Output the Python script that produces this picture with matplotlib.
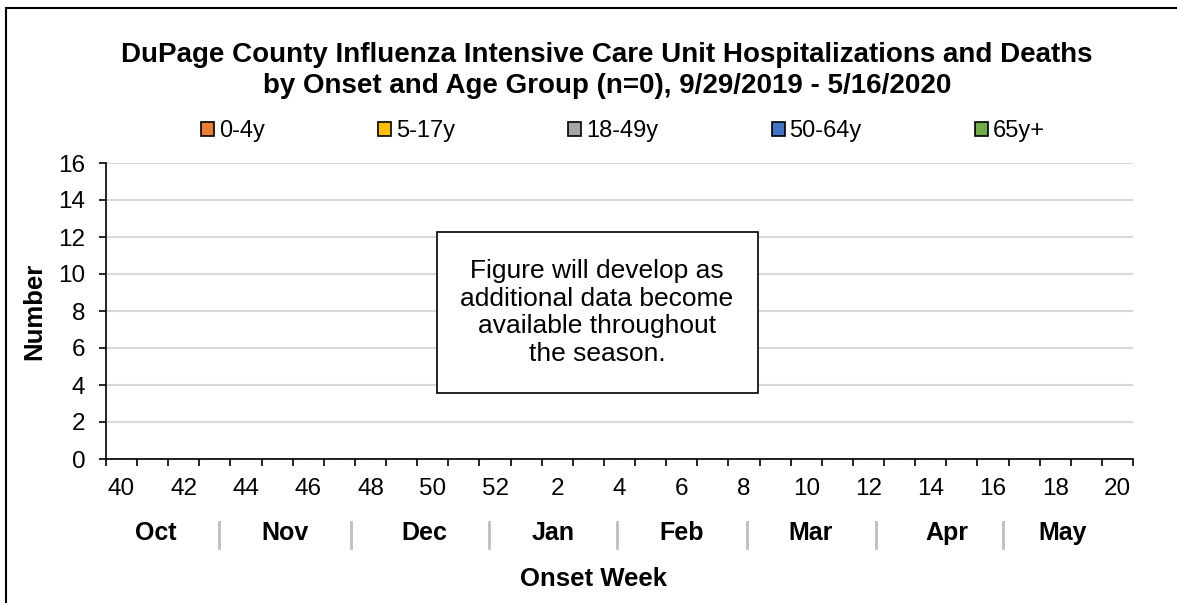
import numpy as np
import matplotlib
matplotlib.use("Agg")
import matplotlib.pyplot as plt
import matplotlib.patches as mpatches
import matplotlib.transforms as mtransforms

plt.rcParams['font.family'] = ['Liberation Sans', 'DejaVu Sans']

# --- data ---
weeks = [str(w) for w in range(40, 53)] + [str(w) for w in range(1, 21)]
age_groups = ["0-4y", "5-17y", "18-49y", "50-64y", "65y+"]
colors = ["#ED7D31", "#FFC000", "#A5A5A5", "#4472C4", "#70AD47"]
# no cases reported yet (n=0)
counts = {
    "0-4y": [0] * 33,
    "5-17y": [0] * 33,
    "18-49y": [0] * 33,
    "50-64y": [0] * 33,
    "65y+": [0] * 33,
}
months = ["Oct", "Nov", "Dec", "Jan", "Feb", "Mar", "Apr", "May"]
month_centers = [1.11, 5.25, 9.72, 13.87, 18.0, 22.15, 26.51, 30.24]
month_breaks = [3.13, 7.36, 11.81, 15.92, 20.09, 24.23, 28.33]

W, H = 1177, 603
fig = plt.figure(figsize=(W / 100, H / 100), dpi=100)
ax = fig.add_axes([106 / W, 1 - 459 / H, (1133 - 106) / W, (459 - 163) / H])

x = np.arange(len(weeks))
bottom = np.zeros(len(weeks))
for grp, col in zip(age_groups, colors):
    vals = np.array(counts[grp], dtype=float)
    ax.bar(x, vals, bottom=bottom, width=0.6, color=col, edgecolor="black",
           linewidth=0.8, label=grp)
    bottom += vals

ax.set_xlim(-0.5, len(weeks) - 0.5)
ax.set_ylim(0, 16)
ax.set_yticks(np.arange(0, 17, 2))
ax.tick_params(axis="y", direction="out", length=5, width=1.2, labelsize=17.5, pad=10)
ax.yaxis.grid(True, color="#d9d9d9", linewidth=1.5)
ax.set_axisbelow(True)

ax.set_xticks(x[::2])
ax.set_xticklabels(weeks[::2])
ax.set_xticks(np.arange(-0.5, len(weeks), 1), minor=True)
ax.tick_params(axis="x", which="major", length=0, labelsize=17.5, pad=13.5)
ax.tick_params(axis="x", which="minor", direction="out", length=5, width=1.2)

for s in ["top", "right"]:
    ax.spines[s].set_visible(False)
for s in ["left", "bottom"]:
    ax.spines[s].set_linewidth(1.2)
    ax.spines[s].set_color("black")

# month row under the week labels
trans = mtransforms.blended_transform_factory(ax.transData, fig.transFigure)
for m, c in zip(months, month_centers):
    fig.text(c, 1 - 533 / H, m, transform=trans, ha="center", va="center",
             fontsize=18, fontweight="bold")
for b in month_breaks:
    fig.add_artist(plt.Line2D([b, b], [1 - 522 / H, 1 - 548 / H], transform=trans,
                              color="#bfbfbf", linewidth=2))

fig.text(594 / W, 1 - 579 / H, "Onset Week", ha="center", va="center",
         fontsize=18.5, fontweight="bold")
fig.text(34 / W, 1 - 311 / H, "Number", ha="center", va="center", rotation=90,
         fontsize=18.5, fontweight="bold")

fig.text(607 / W, 1 - 70.5 / H,
         "DuPage County Influenza Intensive Care Unit Hospitalizations and Deaths\n"
         "by Onset and Age Group (n=0), 9/29/2019 - 5/16/2020",
         ha="center", va="center", fontsize=20, fontweight="bold", linespacing=1.29)

handles = [mpatches.Patch(facecolor=c, edgecolor="black", linewidth=1.2) for c in colors]
fig.legend(handles, age_groups, loc="center", bbox_to_anchor=(623 / W, 1 - 131 / H),
           ncol=5, frameon=False, fontsize=17, handlelength=0.55, handleheight=0.55,
           handletextpad=0.2, columnspacing=4.8)

# note box
ax.add_patch(mpatches.Rectangle((0.3223, 0.223), 0.3126, 0.544, transform=ax.transAxes,
                                facecolor="white", edgecolor="black", linewidth=1.2, zorder=5))
ax.text(0.478, 0.495, "Figure will develop as\nadditional data become\navailable throughout\nthe season.",
        transform=ax.transAxes, ha="center", va="center", fontsize=19, linespacing=1.2, zorder=6)

# outer chart border (left and top edges visible)
fig.add_artist(mpatches.Rectangle((6 / W, -0.1), 1.2, 1 - 8 / H + 0.1, transform=fig.transFigure,
                                  facecolor="none", edgecolor="black", linewidth=1.5))

fig.savefig("out.png", dpi=100)
